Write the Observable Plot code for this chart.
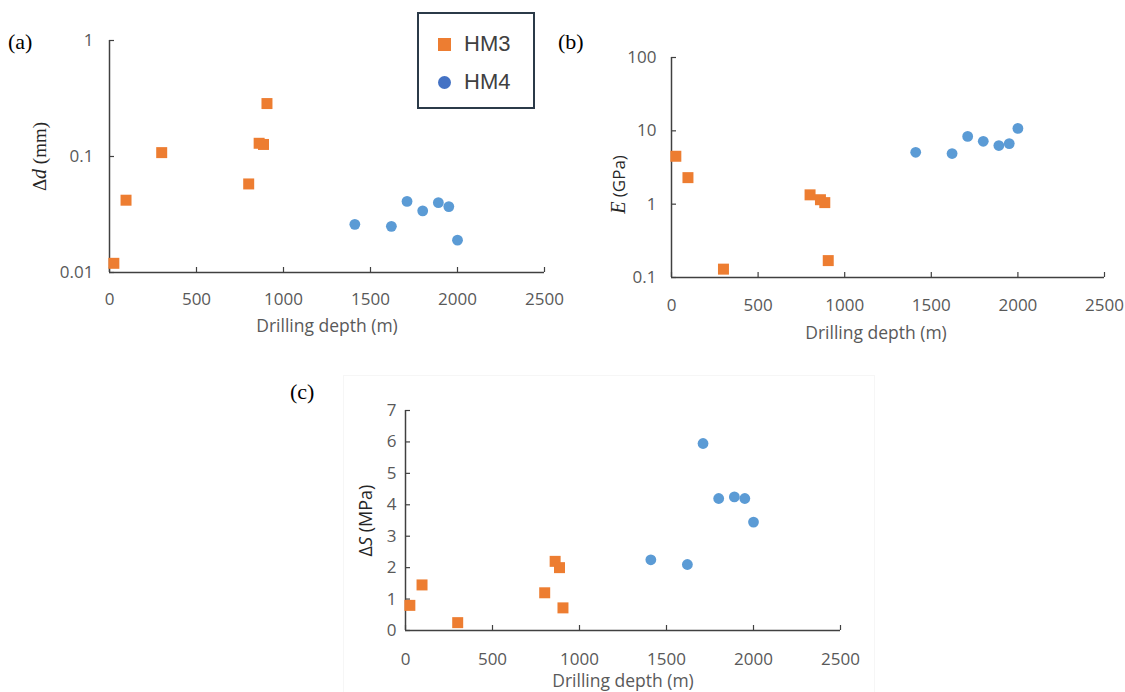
<!DOCTYPE html>
<html><head><meta charset="utf-8">
<script src="https://cdn.jsdelivr.net/npm/d3@7"></script>
<script src="https://cdn.jsdelivr.net/npm/@observablehq/plot@0.6"></script>
<style>
body{margin:0;background:#fff;}
#wrap{position:relative;width:1125px;height:692px;overflow:hidden;font-family:"Open Sans",sans-serif;background:#fff;}
.panel{position:absolute;}
.tag{position:absolute;font-family:"Liberation Serif","Times New Roman",serif;font-size:22px;color:#000;line-height:1;}
#legend{position:absolute;left:417px;top:12px;width:114px;height:93px;border:2px solid #2b3a48;background:#fff;}
.lrow{position:absolute;left:0;display:flex;align-items:center;font-family:"Liberation Sans",Arial,sans-serif;font-size:22px;color:#404040;}
.sw{display:inline-block;width:13px;height:13px;margin-left:19px;margin-right:13px;}
#cbox{position:absolute;left:343px;top:375px;width:530px;height:330px;border:1px solid #f6f6f6;}
</style></head><body>
<div id="wrap">
  <div id="cbox"></div>
  <div id="pa" class="panel" style="left:0;top:0"></div>
  <div id="pb" class="panel" style="left:560px;top:0"></div>
  <div id="pc" class="panel" style="left:280px;top:370px"></div>
  <div class="tag" style="left:8px;top:31px">(a)</div>
  <div class="tag" style="left:558px;top:31px">(b)</div>
  <div class="tag" style="left:290px;top:381px">(c)</div>
  <div id="legend">
    <div class="lrow" style="top:17px"><span class="sw" style="background:#ED7D31"></span>HM3</div>
    <div class="lrow" style="top:55px"><span class="sw" style="background:#4472C4;border-radius:50%"></span>HM4</div>
  </div>
</div>
<script>
// Data
const series = ["HM3", "HM4"];
const depthHM3 = [25, 95, 300, 800, 860, 885, 905];
const ddHM3    = [0.012, 0.042, 0.108, 0.058, 0.13, 0.127, 0.286];
const EHM3     = [4.5, 2.3, 0.13, 1.34, 1.15, 1.05, 0.17];
const dSHM3    = [0.8, 1.45, 0.25, 1.2, 2.2, 2.0, 0.72];

const depthHM4 = [1410, 1620, 1710, 1800, 1890, 1950, 2000];
const ddHM4    = [0.026, 0.025, 0.041, 0.034, 0.040, 0.037, 0.019];
const EHM4     = [5.1, 4.9, 8.4, 7.2, 6.3, 6.7, 10.8];
const dSHM4    = [2.25, 2.1, 5.95, 4.2, 4.25, 4.2, 3.45];

const xTicks = [0, 500, 1000, 1500, 2000, 2500];
const ddTicks = [0.01, 0.1, 1];
const ETicks = [0.1, 1, 10, 100];
const dSTicks = [0, 1, 2, 3, 4, 5, 6, 7];

const hm3 = depthHM3.map((d, i) => ({depth: d, dd: ddHM3[i], E: EHM3[i], dS: dSHM3[i]}));
const hm4 = depthHM4.map((d, i) => ({depth: d, dd: ddHM4[i], E: EHM4[i], dS: dSHM4[i]}));

const AX = "#404040", TXT = "#595959";

function panel(o) {
  const yMin = o.yDomain[0];
  const chart = Plot.plot({
    width: o.width, height: o.height,
    marginLeft: o.ml, marginRight: o.mr, marginTop: o.mt, marginBottom: o.mb,
    style: {background: "transparent", overflow: "visible", fontFamily: '"Open Sans", sans-serif'},
    x: {domain: [0, 2500]},
    y: {type: o.yType, domain: o.yDomain},
    marks: [
      Plot.ruleX([0], {stroke: AX, strokeWidth: 1.5}),
      Plot.ruleY([yMin], {stroke: AX, strokeWidth: 1.5}),
      Plot.axisX({ticks: xTicks, tickSize: 5, dy: -5, tickFormat: () => "", label: null, stroke: AX, strokeWidth: 1.2}),
      Plot.axisY({ticks: o.yTicks, tickSize: 5, dx: 5, tickFormat: () => "", label: null, stroke: AX, strokeWidth: 1.2}),
      Plot.axisX({ticks: xTicks, tickSize: 0, tickPadding: o.xPad, fontSize: 17, fill: TXT,
        tickFormat: d => String(d), label: "Drilling depth (m)", labelAnchor: "center", labelOffset: o.xLabOff, labelArrow: "none"}),
      Plot.axisY({ticks: o.yTicks, tickSize: 0, tickPadding: o.yPad, fontSize: 17, fill: TXT,
        tickFormat: d => String(d), label: "y", labelAnchor: "center", labelOffset: o.yLabOff, labelArrow: "none"}),
      Plot.dot(hm3, {x: "depth", y: o.key, symbol: "square", r: 6.2, fill: "#ED7D31", stroke: "none"}),
      Plot.dot(hm4, {x: "depth", y: o.key, symbol: "circle", r: 5.4, fill: "#5B9BD5", stroke: "none"})
    ]
  });
  const s = d3.select(chart);
  const yl = s.select('g[aria-label="y-axis label"] text');
  yl.text(null).attr("fill", "#262626").attr("font-size", 18);
  for (const p of o.yParts) {
    yl.append("tspan").text(p.t)
      .attr("font-family", p.serif ? '"Liberation Serif","Times New Roman",serif' : '"Open Sans",sans-serif')
      .attr("font-style", p.it ? "italic" : "normal")
      .attr("font-size", p.size || 18);
  }
  if (o.yShift) yl.attr("transform", yl.attr("transform") + ` translate(${-o.yShift},0)`);
  const xl = s.select('g[aria-label="x-axis label"] text');
  xl.attr("font-size", 17.5);
  if (o.xShift) xl.attr("transform", (xl.attr("transform") || "") + ` translate(${o.xShift},0)`);
  document.getElementById(o.el).appendChild(chart);
}

panel({el: "pa", width: 560, height: 350, ml: 109, mr: 16, mt: 40, mb: 78,
  yType: "log", yDomain: [0.01, 1], yTicks: ddTicks, key: "dd",
  xPad: 20, yPad: 16, xLabOff: 59, yLabOff: 76,
  yParts: [{t: "Δ", serif: true, size: 19}, {t: "d", serif: true, it: true, size: 20}, {t: " (mm)", serif: true, size: 19}]});

panel({el: "pb", width: 565, height: 350, ml: 111, mr: 21, mt: 57, mb: 73,
  yType: "log", yDomain: [0.1, 100], yTicks: ETicks, key: "E",
  xPad: 21, yPad: 15, xLabOff: 61, yLabOff: 59, yShift: 17, xShift: -12,
  yParts: [{t: "E", serif: true, it: true, size: 20}, {t: " (GPa)", serif: false, size: 17}]});

panel({el: "pc", width: 580, height: 322, ml: 125, mr: 20, mt: 40, mb: 62,
  yType: "linear", yDomain: [0, 7], yTicks: dSTicks, key: "dS",
  xPad: 22, yPad: 9, xLabOff: 56, yLabOff: 46,
  yParts: [{t: "Δ", size: 18}, {t: "S", it: true, size: 18}, {t: " (MPa)", size: 18}]});
</script>
</body></html>
